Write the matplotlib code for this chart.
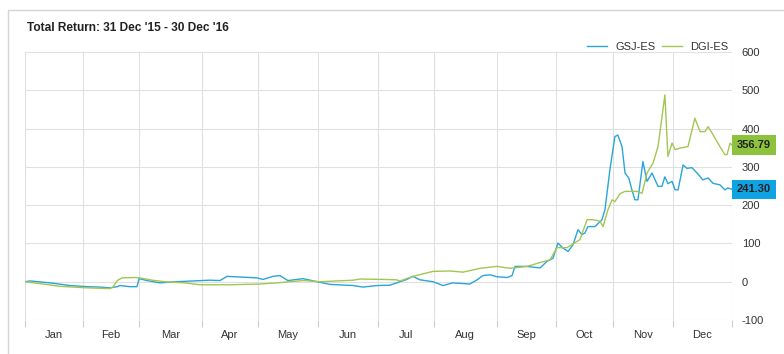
import matplotlib
matplotlib.use("Agg")
import matplotlib.pyplot as plt
from matplotlib.patches import Rectangle

plt.rcParams["font.family"] = ["Liberation Sans", "DejaVu Sans"]
plt.rcParams["axes.unicode_minus"] = False

title = "Total Return: 31 Dec '15 - 30 Dec '16"
months = ["Jan", "Feb", "Mar", "Apr", "May", "Jun", "Jul", "Aug", "Sep", "Oct", "Nov", "Dec"]
# trading-session index where each month starts (last entry = end of year)
month_starts = [0, 21.1, 41.5, 64.4, 84.7, 106.5, 128.4, 148.7, 171.6, 193.1, 213.8, 235.6, 257.1]

gsj_x = [0, 1.8, 9.1, 16.4, 22.5, 27.3, 30.9, 33.5, 34.5, 38.2, 40.7, 41.5, 44.4, 49.1,
         55.3, 61.1, 67.3, 70.9, 73.5, 84.4, 86.5, 90.2, 92.7, 95.6, 101.1, 106.2, 110.9,
         119.3, 122.9, 128, 132.7, 136.4, 138.9, 141.1, 143.6, 148.4, 152, 155.6, 161.8,
         164.4, 166.5, 169.1, 171.6, 175.3, 177.1, 178.2, 182.5, 187.3, 189.8, 192, 193.8,
         195.6, 197.5, 199.3, 201.1, 202.5, 203.6, 204.7, 207.3, 209.8, 210.9, 212.7, 214.5,
         215.6, 217.1, 218.2, 219.6, 220.7, 221.8, 222.9, 224.7, 226.2, 228, 230.2, 231.6,
         232.7, 233.8, 235.3, 236.4, 237.5, 239.3, 240.7, 242.5, 244.4, 246.5, 248.4, 250.2,
         252.7, 254.5, 255.6, 257.1]
gsj_y = [0, 2, -3, -10, -13, -14, -16, -13, -10, -13, -13, 8, 3, -3,
         0, 2, 4, 3, 14, 10, 6, 14, 16, 3, 8, 0, -7,
         -10, -14, -10, -9, 0, 6, 14, 5, 0, -10, -3, -6,
         5, 16, 18, 13, 11, 16, 40, 40, 36, 53, 61, 101,
         88, 79, 97, 136, 123, 127, 144, 144, 162, 188, 292, 379,
         383, 353, 284, 270, 240, 214, 214, 314, 262, 284, 249, 249,
         274, 256, 262, 240, 240, 305, 296, 298, 284, 266, 271, 257,
         253, 240, 245, 241.30]

dgi_x = [0, 5.5, 12.7, 22.5, 30.9, 32, 33.5, 35.3, 40, 41.8, 46.2, 50.9, 58.2, 63.6,
         74.5, 85.5, 91.6, 101.1, 107.3, 119.3, 121.8, 130.2, 135, 136.4, 141.1, 148.4,
         154.5, 159.3, 165.5, 171.6, 176.4, 182.5, 187.3, 190.9, 193.5, 197.1, 201.8,
         204.4, 206.5, 209.1, 210.2, 212, 213.5, 214.5, 216.4, 218.2, 222.5, 224.4, 226.2,
         228.4, 230.2, 232.7, 233.8, 235.3, 236.4, 238.2, 241.1, 243.6, 245.5, 247.3,
         248.4, 250.2, 252.7, 254.5, 255.3, 256.4, 257.1]
dgi_y = [0, -5, -12, -16, -18, -14, 3, 10, 11, 10, 4, 0, -3, -8,
         -8, -6, -3, 3, 0, 4, 7, 6, 5, 2, 14, 27,
         28, 25, 35, 40, 35, 40, 50, 57, 89, 89, 110,
         162, 162, 158, 144, 188, 214, 209, 230, 236, 236, 231, 284,
         310, 353, 488, 327, 362, 345, 349, 353, 427, 392, 392,
         405, 384, 353, 332, 332, 362, 356.79]

blue = "#2aa5d8"
green = "#a3c653"

fig = plt.figure(figsize=(7.84, 3.54), dpi=100)
card = Rectangle((8 / 784, -0.1), 1.2, 1 - 10 / 354 + 0.1, transform=fig.transFigure,
                 facecolor="white", edgecolor="#d4d4d4", lw=1, zorder=-10)
fig.patches.append(card)
fig.text(27 / 784, 1 - 28 / 354, title, fontsize=8.6, fontweight="bold", color="#222222", va="center")

ax = fig.add_axes([25 / 784, 34 / 354, 707 / 784, 268 / 354])
ax.set_facecolor("none")
ax.plot(gsj_x, gsj_y, color=blue, lw=1.0, label="GSJ-ES")
ax.plot(dgi_x, dgi_y, color=green, lw=1.0, label="DGI-ES")

ax.set_xlim(0, month_starts[-1])
ax.set_ylim(-100, 600)
ax.set_yticks(range(-100, 601, 100))
ax.yaxis.tick_right()
ax.tick_params(axis="y", length=0, pad=7, labelsize=8, labelcolor="#333333")
ax.grid(axis="y", color="#e0e0e0", lw=0.8)
ax.set_axisbelow(True)
for xs in month_starts:
    ax.axvline(xs, color="#e0e0e0", lw=0.8, zorder=0)

ax.set_xticks(month_starts)
ax.set_xticklabels([])
ax.tick_params(axis="x", which="major", length=5, color="#cccccc")
mids = [(a + b) / 2 for a, b in zip(month_starts[:-1], month_starts[1:])]
ax.set_xticks(mids, minor=True)
ax.set_xticklabels(months, minor=True)
ax.tick_params(axis="x", which="minor", length=0, pad=7, labelsize=8, labelcolor="#333333")
for s in ax.spines.values():
    s.set_visible(False)

ax.legend(loc="center right", bbox_to_anchor=(0.9943, 1.0187), ncol=2, frameon=False,
          fontsize=8, handlelength=1.8, handletextpad=0.7, columnspacing=0.6,
          borderpad=0, borderaxespad=0, labelcolor="#333333")

for val, col in [(gsj_y[-1], "#10a3e3"), (dgi_y[-1], "#8dc33c")]:
    ax.annotate(f"{val:.2f}", xy=(1, val), xycoords=("axes fraction", "data"),
                xytext=(3.5, 0), textcoords="offset points", ha="left", va="center",
                fontsize=8, fontweight="bold", color="#222222", annotation_clip=False,
                bbox=dict(boxstyle="square,pad=0.42", fc=col, ec="none"))

fig.savefig("out.png", dpi=100)
